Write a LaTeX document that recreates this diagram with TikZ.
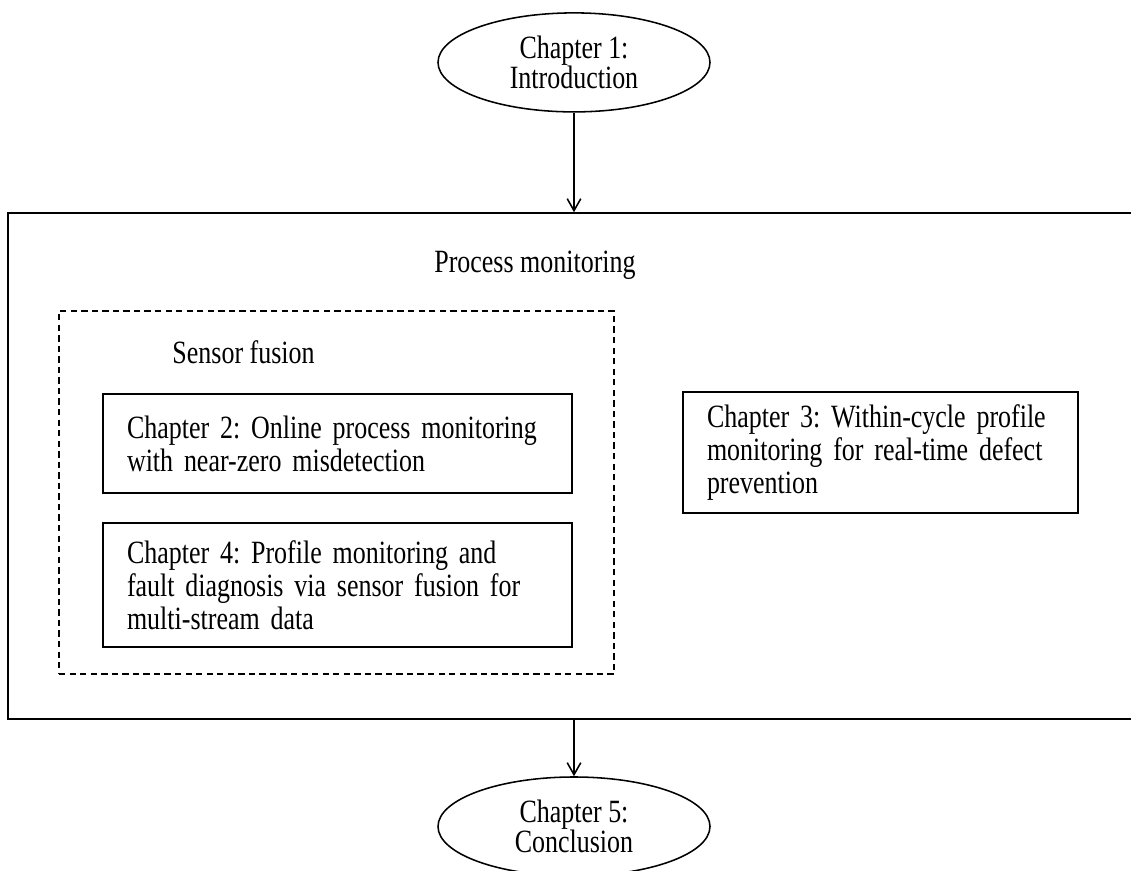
\documentclass[tikz,border=0pt]{standalone}
\usepackage{fontspec}
\setmainfont[FakeStretch=0.8]{Liberation Serif}
\usetikzlibrary{shapes.geometric,arrows.meta}

\newcommand{\ovalfont}{\fontsize{23.1}{21.2}\selectfont\lineskiplimit=-10pt\relax}

\begin{document}
\begin{tikzpicture}[
    font=\fontsize{23.1}{23.4}\selectfont\frenchspacing,
    line width=1.1pt,
    chapoval/.style={draw, ellipse, minimum width=6.8cm, minimum height=2.475cm, align=center, inner sep=0pt, font=\ovalfont},
    chapbox/.style={draw, rectangle, align=left, inner xsep=0.6cm, inner ysep=0pt},
    flow/.style={-{Straight Barb[length=3mm,width=3.4mm]}}
]

    % Page size (same proportions as the original)
    \useasboundingbox (0,0) rectangle (28.275,21.75);

    % Chapter 1 oval at the top
    \node[chapoval] (intro) at (14.35,20.19) {Chapter 1:\\Introduction};

    % Process monitoring frame (runs off the right edge)
    \node[draw, minimum width=28.3cm, minimum height=12.65cm, inner sep=0pt] (procmon) at (14.35,10.1) {};
    \node (pmtitle) at (13.375,15.125) {Process monitoring};

    % Sensor fusion frame (dashed)
    \node[draw, dash pattern=on 4.5pt off 3pt, minimum width=13.875cm, minimum height=9.075cm, inner sep=0pt] (fusion) at (8.4125,9.4375) {};
    \node[anchor=west] (sftitle) at (4.175,12.95) {Sensor fusion};

    % Chapter 2 and Chapter 4 inside the sensor fusion frame
    \node[chapbox, text width=10.525cm, minimum height=2.475cm] (ch2) at (8.4375,10.6625)
        {Chapter 2: Online process monitoring\\with near-zero misdetection};
    \node[chapbox, text width=10.525cm, minimum height=3.1cm] (ch4) at (8.4375,7.125)
        {Chapter 4: Profile monitoring and\\fault diagnosis via sensor fusion for\\multi-stream data};

    % Chapter 3 on the right
    \node[chapbox, text width=8.675cm, minimum height=3.025cm] (ch3) at (22.0125,10.4375)
        {Chapter 3: Within-cycle profile\\monitoring for real-time defect\\prevention};

    % Chapter 5 oval at the bottom
    \node[chapoval] (concl) at (14.35,1.0875) {Chapter 5:\\Conclusion};

    % Arrows in and out of the frame
    \draw[flow] (intro) -- (procmon);
    \draw[flow] (procmon) -- (concl);

\end{tikzpicture}
\end{document}
